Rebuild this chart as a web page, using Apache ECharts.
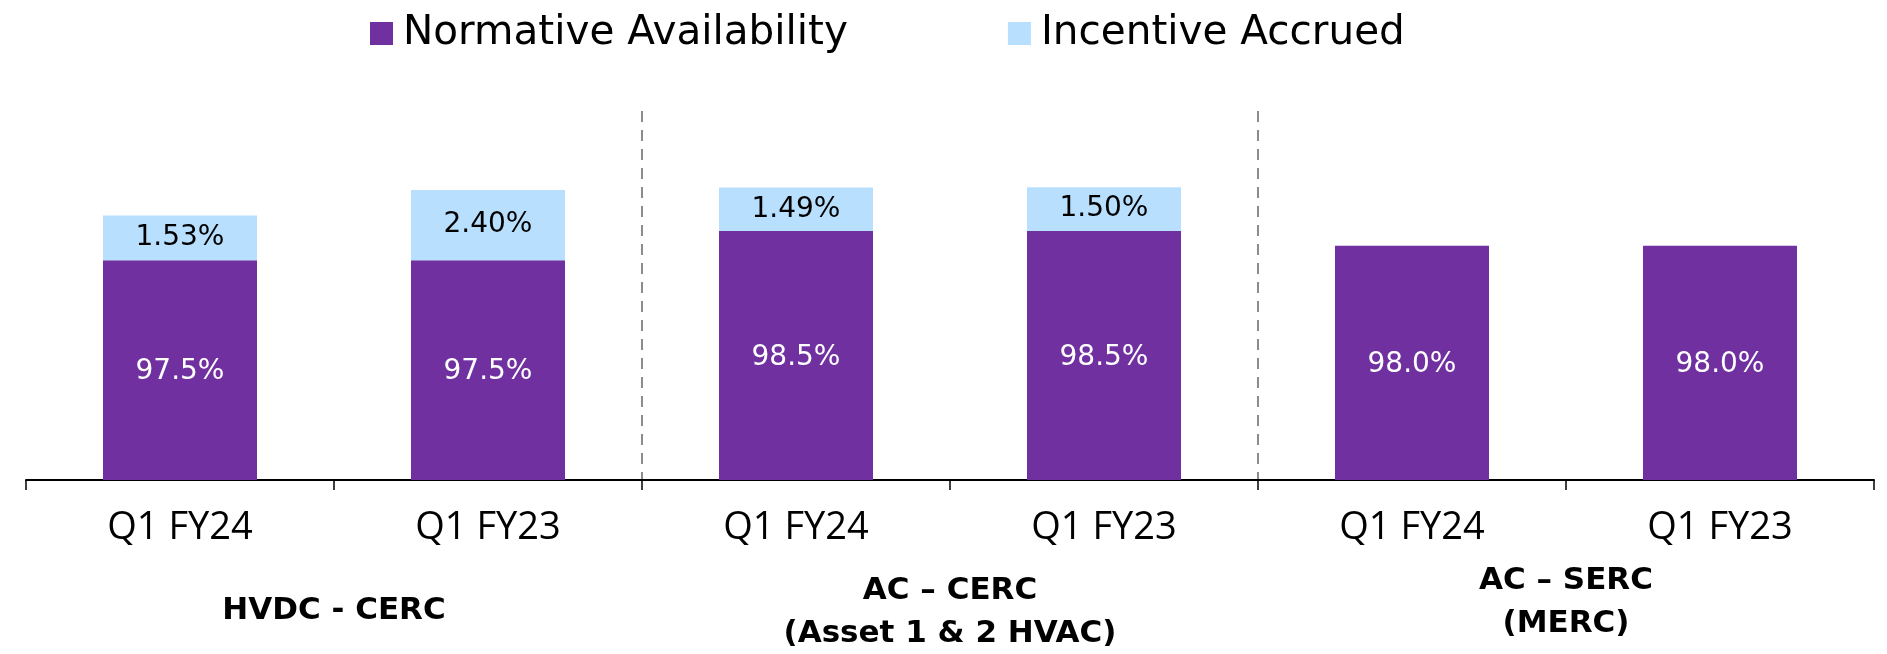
<!DOCTYPE html>
<html>
<head>
<meta charset="utf-8">
<script src="https://cdn.jsdelivr.net/npm/echarts@6/dist/echarts.min.js"></script>
<style>
  html, body { margin: 0; padding: 0; background: #fff; }
  #chart { width: 1887px; height: 654px; }
</style>
</head>
<body>
<div id="chart"></div>
<script>
// data
const categories = ["Q1 FY24", "Q1 FY23", "Q1 FY24", "Q1 FY23", "Q1 FY24", "Q1 FY23"];
const groups = ["HVDC - CERC", "AC – CERC\n(Asset 1 & 2 HVAC)", "AC – SERC\n(MERC)"];
const normative = [97.5, 97.5, 98.5, 98.5, 98.0, 98.0];
const incentive = [1.53, 2.40, 1.49, 1.50, null, null];

// top padding to line up the group captions
const groupPad = [30, 10, 0];

const wide = "DejaVu Sans";
let myChart = echarts.init(document.getElementById("chart"));

myChart.setOption({
  animation: false,
  textStyle: { fontFamily: "Open Sans" },
  legend: {
    left: 365,
    top: 8,
    icon: "rect",
    itemWidth: 23,
    itemHeight: 23,
    itemGap: 160,
    textStyle: { fontFamily: wide, fontSize: 40.5, color: "#000", padding: [0, 0, 0, 5] },
    data: ["Normative Availability", "Incentive Accrued"],
  },
  grid: { left: 26, right: 13, top: 111, bottom: 174, outerBoundsMode: "none", containLabel: false },
  xAxis: [
    {
      type: "category",
      data: categories,
      axisLine: { lineStyle: { color: "#000", width: 2 } },
      axisTick: { show: true, interval: 0, length: 10, lineStyle: { color: "#000", width: 1.5 } },
      axisLabel: { interval: 0, margin: 29, fontSize: 38, color: "#000" },
    },
    {
      type: "category",
      position: "bottom",
      data: groups.map((g, i) => ({ value: g, textStyle: { padding: [groupPad[i], 0, 0, 0] } })),
      axisLine: { show: false },
      axisTick: { show: false },
      axisLabel: {
        interval: 0,
        margin: 79,
        fontFamily: wide,
        fontSize: 31,
        fontWeight: "bold",
        lineHeight: 43,
        color: "#000",
      },
      splitLine: {
        show: true,
        showMinLine: false,
        showMaxLine: false,
        lineStyle: { color: "#8c8c8c", width: 2, type: [11, 8] },
      },
    },
  ],
  yAxis: { type: "value", show: false, min: 90, max: 102.6, splitLine: { show: false } },
  series: [
    {
      name: "Normative Availability",
      type: "bar",
      stack: "total",
      barWidth: "50%",
      data: normative,
      itemStyle: { color: "#7030A0" },
      label: {
        show: true,
        position: "inside",
        offset: [0, 2],
        color: "#fff",
        fontFamily: wide,
        fontSize: 28,
        formatter: (p) => p.value.toFixed(1) + "%",
      },
    },
    {
      name: "Incentive Accrued",
      type: "bar",
      stack: "total",
      barWidth: "50%",
      data: incentive,
      itemStyle: { color: "#B8E0FE" },
      label: {
        show: true,
        position: "inside",
        color: "#000",
        fontFamily: wide,
        fontSize: 28,
        formatter: (p) => (p.value == null ? "" : p.value.toFixed(2) + "%"),
      },
    },
  ],
});
</script>
</body>
</html>
